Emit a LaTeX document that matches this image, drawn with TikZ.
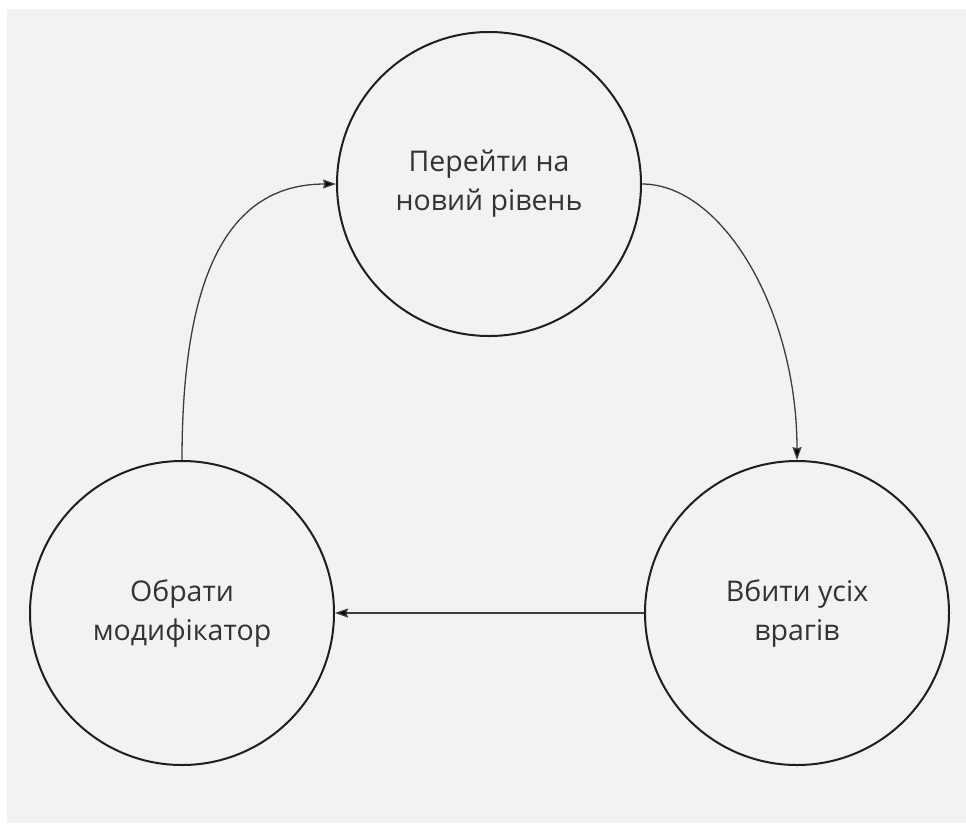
\documentclass[tikz,border=0pt]{standalone}
\usepackage{fontspec}
\setmainfont{Open Sans}
\usetikzlibrary{arrows.meta}
\definecolor{bgcol}{HTML}{F2F2F2}
\definecolor{txtcol}{HTML}{333333}
\definecolor{edgecol}{HTML}{1E1E1E}
\definecolor{linkcol}{HTML}{3C3C3C}
\tikzset{
  statenode/.style={circle, draw=edgecol, line width=2pt, minimum size=304pt, inner sep=0pt,
    align=center, text=txtcol, font=\fontsize{28.5}{39}\selectfont},
  link/.style={draw=linkcol, line width=1.3pt, -{Stealth[length=13pt,width=9pt,inset=1.5pt,fill=black]}}
}
\begin{document}
\begin{tikzpicture}[x=1pt,y=-1pt]
\useasboundingbox (0,0) rectangle (966,823);
\fill[white] (0,0) rectangle (966,823);
\fill[bgcol] (7,9) rectangle (966,823);
\node[statenode] (top) at (489,184) {Перейти на\\новий рівень};
\node[statenode] (bl) at (182,613) {Обрати\\модифікатор};
\node[statenode] (br) at (797,613) {Вбити усіх\\врагів};
\draw[link] (bl.north) .. controls +(0,-200) and +(-100,0) .. (top.west);
\draw[link] (top.east) .. controls +(80,0) and +(0,-150) .. (br.north);
\draw[link] (br.west) -- (bl.east);
\end{tikzpicture}
\end{document}
